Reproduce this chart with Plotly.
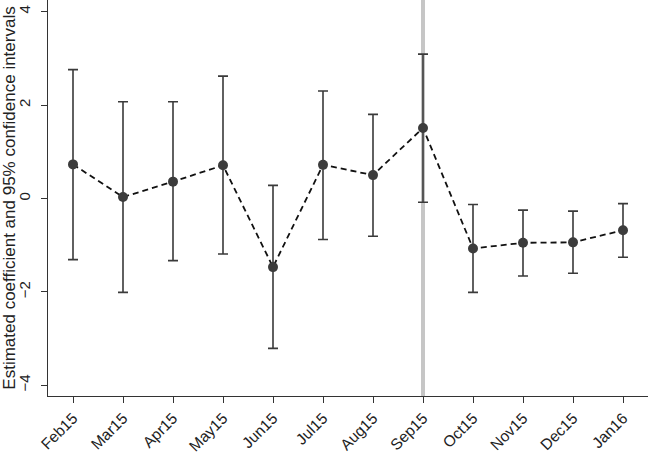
import plotly.graph_objects as go

months = ["Feb15", "Mar15", "Apr15", "May15", "Jun15", "Jul15",
          "Aug15", "Sep15", "Oct15", "Nov15", "Dec15", "Jan16"]
coef = [0.73, 0.03, 0.36, 0.71, -1.47, 0.72, 0.50, 1.51, -1.07, -0.95, -0.94, -0.68]
upper = [2.76, 2.07, 2.07, 2.62, 0.28, 2.30, 1.80, 3.09, -0.13, -0.25, -0.27, -0.11]
lower = [-1.31, -2.01, -1.33, -1.19, -3.21, -0.88, -0.81, -0.08, -2.01, -1.66, -1.60, -1.26]
y_ticks = [-4, -2, 0, 2, 4]
event_month = "Sep15"

err_plus = [u - c for u, c in zip(upper, coef)]
err_minus = [c - l for c, l in zip(coef, lower)]

font_family = "Liberation Sans, Arial, sans-serif"

fig = go.Figure()
fig.add_trace(go.Scatter(
    x=months, y=coef, mode="lines+markers",
    line=dict(color="#111111", width=1.8, dash="6px,4px"),
    marker=dict(color="#3c3c3c", size=10),
    error_y=dict(type="data", symmetric=False, array=err_plus, arrayminus=err_minus,
                 color="#3a3a3a", thickness=1.6, width=5),
    showlegend=False,
))

fig.add_shape(type="line", xref="x", yref="paper", x0=event_month, x1=event_month,
              y0=0, y1=1, line=dict(color="#c6c6c6", width=4), layer="below")

fig.update_layout(
    width=650, height=455,
    margin=dict(l=48, r=2, t=0, b=52),
    paper_bgcolor="white", plot_bgcolor="white",
    font=dict(family=font_family, size=15, color="#222222"),
    xaxis=dict(
        type="category", range=[-0.5, 11.5],
        showline=True, linecolor="#333333", linewidth=1.3,
        ticks="outside", ticklen=6, tickcolor="#333333", tickwidth=1.3,
        tickangle=-45, showgrid=False, zeroline=False,
        tickfont=dict(size=15.5),
    ),
    yaxis=dict(
        range=[-4.23, 4.25], tickvals=y_ticks,
        showline=True, linecolor="#333333", linewidth=1.3,
        ticks="outside", ticklen=6, tickcolor="#333333", tickwidth=1.3,
        tickangle=-90, showgrid=False, zeroline=False,
        tickfont=dict(size=15), ticklabelstandoff=5,
        title=dict(text="Estimated coefficient and 95% confidence intervals",
                   font=dict(size=17), standoff=2),
    ),
)

fig.write_html("out.html")
